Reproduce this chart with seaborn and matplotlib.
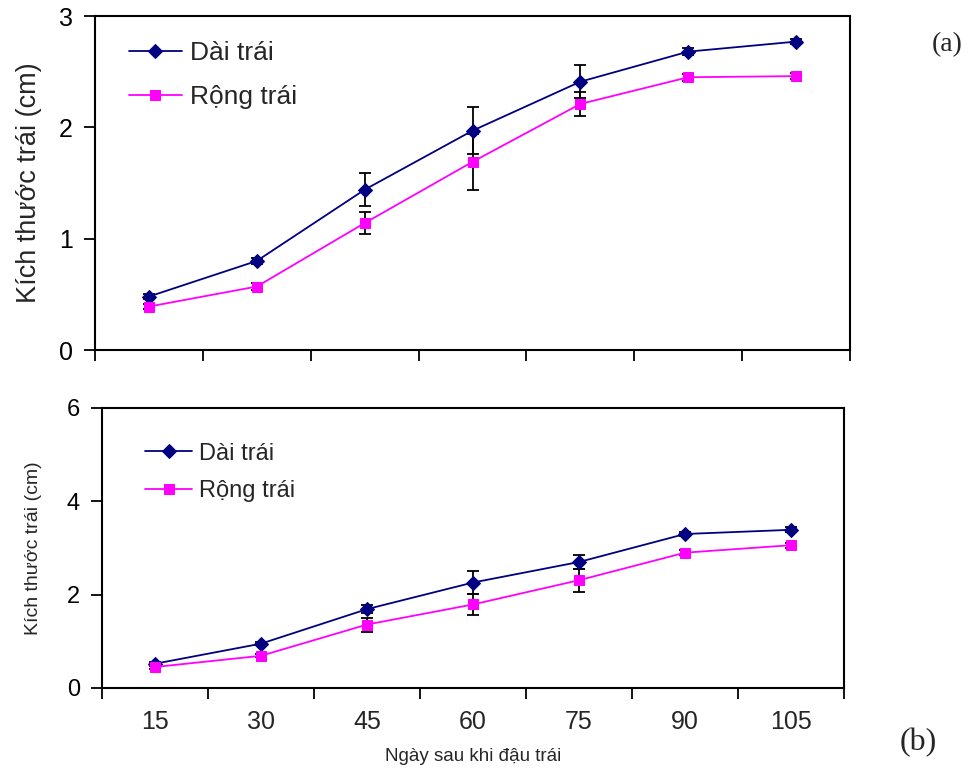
import matplotlib
matplotlib.use("Agg")
import matplotlib.pyplot as plt
import seaborn as sns
import pandas as pd

days = [15, 30, 45, 60, 75, 90, 105]
day_labels = ["15", "30", "45", "60", "75", "90", "105"]

# (a)
a_dai = [0.48, 0.80, 1.44, 1.97, 2.41, 2.68, 2.77]
a_dai_err = [0.02, 0.03, 0.15, 0.21, 0.15, 0.03, 0.02]
a_rong = [0.39, 0.57, 1.14, 1.69, 2.21, 2.45, 2.46]
a_rong_err = [0.02, 0.03, 0.10, 0.25, 0.11, 0.03, 0.03]

# (b)
b_dai = [0.52, 0.95, 1.69, 2.26, 2.70, 3.30, 3.39]
b_dai_err = [0.04, 0.03, 0.08, 0.25, 0.15, 0.05, 0.05]
b_rong = [0.45, 0.69, 1.36, 1.79, 2.31, 2.90, 3.06]
b_rong_err = [0.04, 0.03, 0.15, 0.23, 0.25, 0.06, 0.05]

lbl_dai = "Dài trái"
lbl_rong = "Rộng trái"
ylabel = "Kích thước trái (cm)"
xlabel = "Ngày sau khi đậu trái"

sns.set_style("ticks")
plt.rcParams['font.family'] = ['Liberation Sans', 'DejaVu Sans']

NAVY = "#000080"
MAG = "#FF00FF"

fig = plt.figure(figsize=(9.72, 7.69), dpi=100)
axA = fig.add_axes([95/972, 1-350/769, (850-95)/972, (350-16)/769])
axB = fig.add_axes([102/972, 1-688/769, (844-102)/972, (688-408)/769])


def draw(ax, dai, dai_err, rong, rong_err, ymax, yticks, tick_fs, legend_fs,
         leg_xy, lspace):
    df = pd.DataFrame({"day": days, "dai": dai, "rong": rong})
    ax.errorbar(days, dai, yerr=dai_err, fmt='none', ecolor='black',
                elinewidth=1.3, capsize=4.5, capthick=1.3, zorder=2)
    ax.errorbar(days, rong, yerr=rong_err, fmt='none', ecolor='black',
                elinewidth=1.3, capsize=4.5, capthick=1.3, zorder=2)
    sns.lineplot(data=df, x="day", y="dai", ax=ax, color=NAVY, marker="D",
                 markersize=7.5, markeredgecolor=NAVY, linewidth=1.3,
                 label=lbl_dai, zorder=3)
    sns.lineplot(data=df, x="day", y="rong", ax=ax, color=MAG, marker="s",
                 markersize=7, markeredgecolor=MAG, linewidth=1.3,
                 label=lbl_rong, zorder=3)
    ax.set_xlim(7.5, 112.5)
    ax.set_ylim(0, ymax)
    ax.set_yticks(yticks)
    ax.set_yticklabels([str(t) for t in yticks], fontsize=tick_fs)
    bounds = [7.5 + 15 * i for i in range(8)]
    ax.set_xticks(bounds)
    ax.set_xticklabels([])
    for s in ax.spines.values():
        s.set_visible(True)
        s.set_color("black")
        s.set_linewidth(1.5)
    ax.tick_params(axis='both', direction='out', length=8, width=1.3,
                   color='black', labelcolor='black')
    ax.tick_params(axis='y', pad=8)
    ax.set_xlabel("")
    ax.set_ylabel("")
    leg = ax.legend(loc='upper left', bbox_to_anchor=leg_xy, frameon=False,
                    fontsize=legend_fs, handlelength=2.0, handletextpad=0.3,
                    labelspacing=lspace, borderpad=0, borderaxespad=0)
    return leg


draw(axA, a_dai, a_dai_err, a_rong, a_rong_err, 3, [0, 1, 2, 3], 18, 19,
     (0.045, 0.925), 0.75)
draw(axB, b_dai, b_dai_err, b_rong, b_rong_err, 6, [0, 2, 4, 6], 17, 17,
     (0.058, 0.876), 0.65)

axA.set_ylabel(ylabel, fontsize=19.5, labelpad=12)
axB.set_ylabel(ylabel, fontsize=14, labelpad=18)

axB.set_xticks(days, minor=True)
axB.set_xticklabels(day_labels, minor=True, fontsize=18)
axB.tick_params(axis='x', which='minor', length=0, pad=16)
axB.set_xlabel(xlabel, fontsize=13.5, labelpad=10)

fig.text(947/972, 1-45/769, "(a)", fontsize=20, ha='center', va='center',
         family=['Liberation Serif', 'DejaVu Serif'])
fig.text(918/972, 1-743/769, "(b)", fontsize=23, ha='center', va='center',
         family=['Liberation Serif', 'DejaVu Serif'])

fig.savefig("out.png", dpi=100)
